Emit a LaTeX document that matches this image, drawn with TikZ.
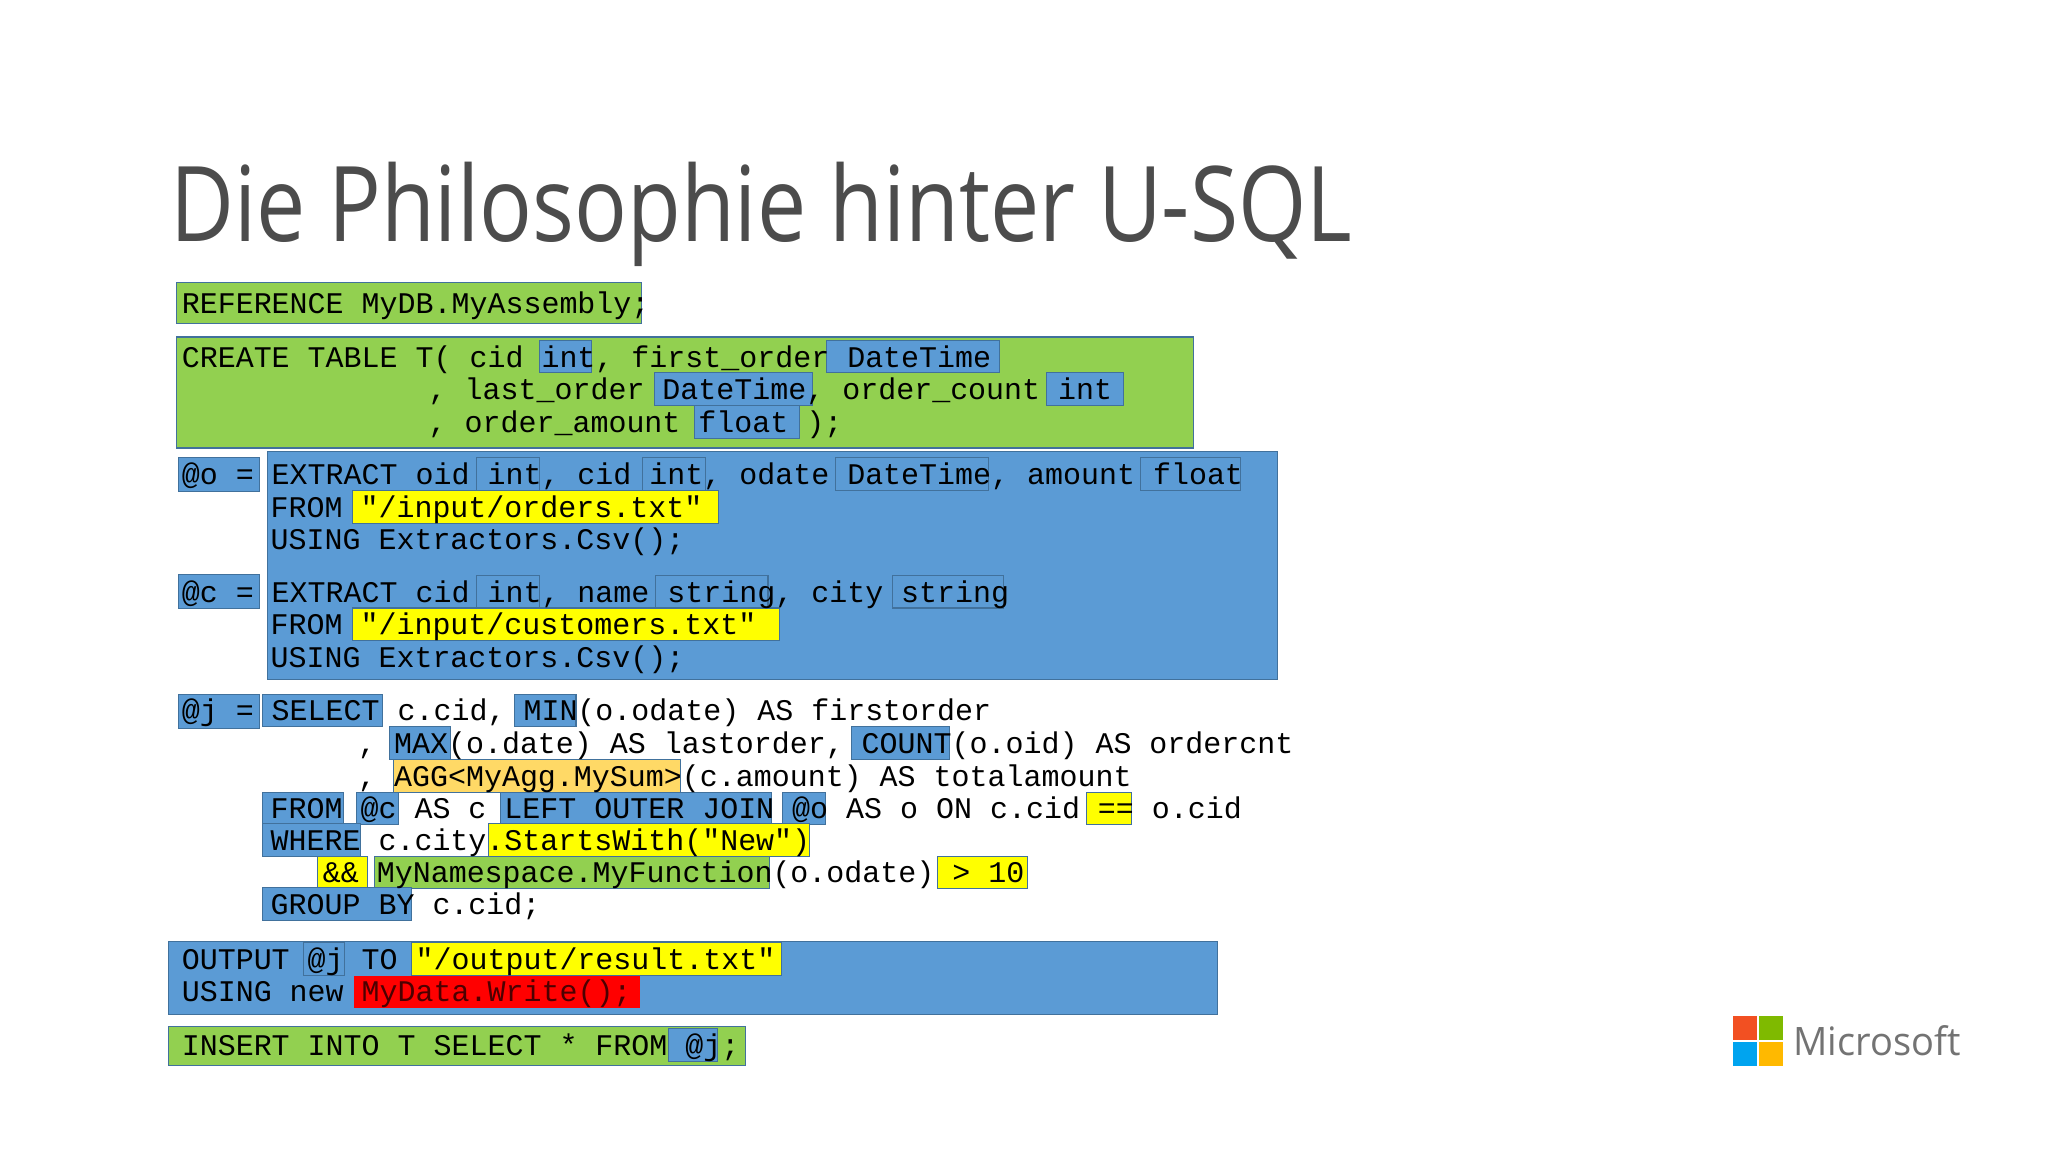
\documentclass[tikz,border=0pt]{standalone}
\usepackage{fontspec}
\setmainfont{Open Sans}
\setmonofont{Liberation Mono}
\definecolor{gr}{HTML}{92D050}
\definecolor{bl}{HTML}{5B9BD5}
\definecolor{ye}{HTML}{FFFF00}
\definecolor{rd}{HTML}{FF0000}
\definecolor{og}{HTML}{FFD966}
\definecolor{bd}{HTML}{41719C}
\tikzset{
  hb/.style={draw=bd, line width=0.8pt},
  code/.style={anchor=base west, inner sep=0pt, font=\fontsize{22.95}{25}\selectfont\ttfamily, text=black}
}
\newcommand{\hbx}[4]{\path[hb, fill=#1] (#2,#4-12.5) rectangle (#3,#4+12.5);}
\begin{document}
\begin{tikzpicture}[x=1pt,y=-1pt]
\useasboundingbox[fill=white] (0,0) rectangle (1568,882);
% title
\node[anchor=base west, inner sep=0pt, text=black!70, font=\fontsize{80}{90}\selectfont] (title) at (130,185) {\scalebox{0.84}[1]{Die Philosophie hinter U-SQL}};
% big boxes
\path[hb, fill=gr] (135,216) rectangle (491,248);
\path[hb, fill=gr] (135,258) rectangle (914,343);
\path[hb, fill=bl] (205,346) rectangle (978,520);
\path[hb, fill=bl] (137,350) rectangle (199,376);
\path[hb, fill=bl] (137,440) rectangle (199,466);
\path[hb, fill=bl] (137,532) rectangle (199,558);
\path[hb, fill=bl] (129,721) rectangle (932,777);
\path[hb, fill=gr] (129,786) rectangle (571,816);
% small boxes
\hbx{bl}{413}{453}{273}\hbx{bl}{633}{765}{273}
\hbx{bl}{501}{622}{298}\hbx{bl}{801}{860}{298}
\hbx{bl}{532}{612}{323}
\hbx{bl}{365}{413}{363}\hbx{bl}{492}{540}{363}\hbx{bl}{640}{757}{363}\hbx{bl}{873}{950}{363}
\hbx{ye}{270}{550}{388}
\hbx{bl}{365}{413}{453}\hbx{bl}{502}{588}{453}\hbx{bl}{683}{768}{453}
\hbx{ye}{270}{597}{478}
\hbx{bl}{201}{293}{544}\hbx{bl}{394}{441}{544}
\hbx{bl}{298}{345}{569}\hbx{bl}{652}{727}{569}
\hbx{og}{301}{521}{594}
\hbx{bl}{201}{263}{619}\hbx{bl}{273}{305}{619}\hbx{bl}{383}{591}{619}\hbx{bl}{599}{632}{619}\hbx{ye}{832}{866}{619}
\hbx{bl}{201}{276}{643}\hbx{ye}{374}{620}{643}
\hbx{ye}{243}{281}{668}\hbx{gr}{287}{589}{668}\hbx{ye}{718}{787}{668}
\hbx{bl}{201}{315}{692}
\hbx{bl}{232}{264}{734}\hbx{ye}{315}{598}{734}
\path[fill=rd] (271,747) rectangle (490,772);
\hbx{bl}{512}{549}{800}
% code
\node[code] (l1) at (139,240) {REFERENCE MyDB.MyAssembly;};
\node[code] (l2) at (139,281) {CREATE TABLE T( cid int, first\_order DateTime};
\node[code] (l3) at (328,306) {, last\_order DateTime, order\_count int};
\node[code] (l4) at (328,331) {, order\_amount float );};
\node[code] (l5) at (139,371) {@o = EXTRACT oid int, cid int, odate DateTime, amount float};
\node[code] (l6) at (207,396) {FROM "/input/orders.txt"};
\node[code] (l7) at (207,421) {USING Extractors.Csv();};
\node[code] (l8) at (139,461) {@c = EXTRACT cid int, name string, city string};
\node[code] (l9) at (207,486) {FROM "/input/customers.txt"};
\node[code] (l10) at (207,511) {USING Extractors.Csv();};
\node[code] (l11) at (139,552) {@j = SELECT c.cid, MIN(o.odate) AS firstorder};
\node[code] (l12) at (274,577) {, MAX(o.date) AS lastorder, COUNT(o.oid) AS ordercnt};
\node[code] (l13) at (274,602) {, AGG<MyAgg.MySum>(c.amount) AS totalamount};
\node[code] (l14) at (207,627) {FROM @c AS c LEFT OUTER JOIN @o AS o ON c.cid == o.cid};
\node[code] (l15) at (207,651) {WHERE c.city.StartsWith("New")};
\node[code] (l16) at (247,676) {\&\& MyNamespace.MyFunction(o.odate) > 10};
\node[code] (l17) at (207,700) {GROUP BY c.cid;};
\node[code] (l18) at (139,742) {OUTPUT @j TO "/output/result.txt"};
\node[code] (l19) at (139,767) {USING new \textcolor{black!70!red}{MyData.Write();}};
\node[code] (l20) at (139,808) {INSERT INTO T SELECT * FROM @j;};
% logo
\fill[color={rgb,255:red,242;green,80;blue,34}] (1327,778) rectangle (1345,796);
\fill[color={rgb,255:red,127;green,186;blue,0}] (1347,778) rectangle (1365,796);
\fill[color={rgb,255:red,0;green,164;blue,239}] (1327,798) rectangle (1345,816);
\fill[color={rgb,255:red,255;green,185;blue,0}] (1347,798) rectangle (1365,816);
\node[anchor=base west, inner sep=0pt, text=black!55, font=\fontsize{30}{34}\selectfont] (ms) at (1373,808) {\scalebox{0.97}[1]{Microsoft}};
\end{tikzpicture}
\end{document}
